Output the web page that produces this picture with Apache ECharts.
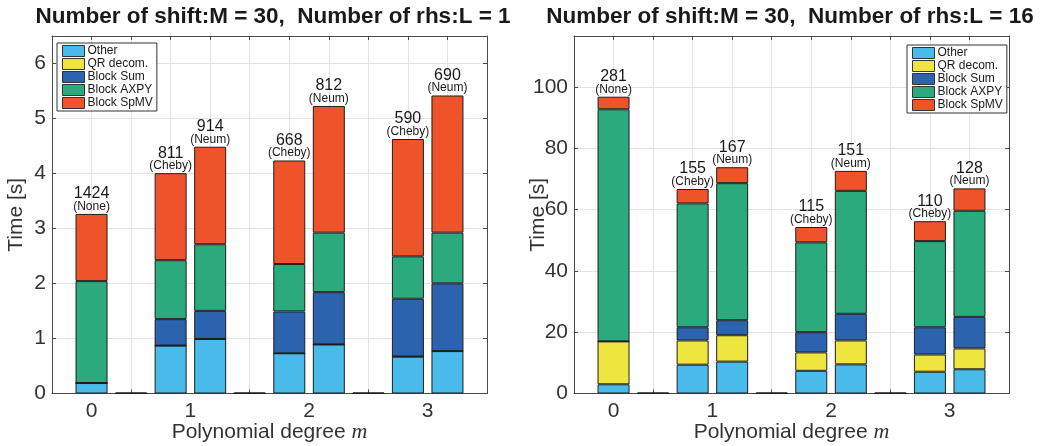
<!DOCTYPE html>
<html>
<head>
<meta charset="utf-8">
<script src="https://cdn.jsdelivr.net/npm/echarts@6/dist/echarts.min.js"></script>
<style>
  html, body { margin: 0; padding: 0; background: #fff; }
  #main { width: 1040px; height: 446px; }
</style>
</head>
<body>
<div id="main"></div>
<script>
// ---- Data ----
// slot 0 and 11 are empty margins; bars sit in slots 1..10
const SLOTS = ['0', '1', '2', '3', '4', '5', '6', '7', '8', '9', '10', '11'];
const SLOT_METHOD = ['None', '', 'Cheby', 'Neum', '', 'Cheby', 'Neum', '', 'Cheby', 'Neum'];
const DEGREE_LABELS = ['0', '1', '2', '3'];
const DEGREE_SLOT = [1, 3.5, 6.5, 9.5];
const SERIES_NAMES = ['Other', 'QR decom.', 'Block Sum', 'Block AXPY', 'Block SpMV'];

// Left: M = 30, L = 1
const L1_OTHER = [0.19, 0, 0.87, 0.99, 0, 0.73, 0.89, 0, 0.67, 0.77];
const L1_QR    = [0, 0, 0, 0, 0, 0, 0, 0, 0, 0];
const L1_SUM   = [0, 0, 0.48, 0.51, 0, 0.76, 0.95, 0, 1.05, 1.23];
const L1_AXPY  = [1.85, 0, 1.07, 1.21, 0, 0.86, 1.08, 0, 0.77, 0.92];
const L1_SPMV  = [1.22, 0, 1.58, 1.77, 0, 1.88, 2.30, 0, 2.13, 2.49];
const L1_ITERS = [1424, null, 811, 914, null, 668, 812, null, 590, 690];

// Right: M = 30, L = 16
const L16_OTHER = [3.0, 0, 9.4, 10.4, 0, 7.4, 9.5, 0, 7.1, 7.9];
const L16_QR    = [14.0, 0, 7.9, 8.6, 0, 6.0, 7.8, 0, 5.6, 6.8];
const L16_SUM   = [0, 0, 4.3, 4.9, 0, 6.6, 8.7, 0, 8.9, 10.3];
const L16_AXPY  = [75.7, 0, 40.4, 44.7, 0, 29.3, 40.1, 0, 28.1, 34.6];
const L16_SPMV  = [4.1, 0, 4.7, 5.2, 0, 5.0, 6.5, 0, 6.5, 7.3];
const L16_ITERS = [281, null, 155, 167, null, 115, 151, null, 110, 128];

const TITLES = ['Number of shift:M = 30,  Number of rhs:L = 1', 'Number of shift:M = 30,  Number of rhs:L = 16'];

// ---- Styles ----
const COLORS = ['#48BBEB', '#EEE63E', '#2C63AF', '#2AAA7D', '#EF532A'];
const FONT = '"Liberation Sans", Arial, Helvetica, sans-serif';
const AX_COLOR = '#4a4a4a';
const TXT_COLOR = '#333333';

// half-step categories for the degree labels
const HALF_SLOTS = [];
for (let i = 0; i <= 2 * (SLOTS.length - 1); i++) HALF_SLOTS.push(String(i / 2));

const charts = [
  { left: 52, values: [L1_OTHER, L1_QR, L1_SUM, L1_AXPY, L1_SPMV], iters: L1_ITERS, yMax: 6.49, yInt: 1, title: TITLES[0], titleX: 273, legendLeft: 57, legendTop: 43 },
  { left: 574, values: [L16_OTHER, L16_QR, L16_SUM, L16_AXPY, L16_SPMV], iters: L16_ITERS, yMax: 116.6, yInt: 20, title: TITLES[1], titleX: 790, legendLeft: 907, legendTop: 45 }
];

const grid = [], xAxis = [], yAxis = [], series = [], legend = [], graphic = [];

charts.forEach((c, g) => {
  grid.push({ left: c.left, top: 36, width: 435, height: 357.5, containLabel: false, outerBoundsMode: 'none' });

  // main x axis: grid lines, bottom line, inward ticks
  xAxis.push({
    gridIndex: g, type: 'category', data: SLOTS, boundaryGap: false, position: 'bottom',
    axisLine: { show: true, onZero: false, lineStyle: { color: AX_COLOR, width: 1 } },
    axisTick: { show: true, inside: true, length: 4, interval: 0, lineStyle: { color: AX_COLOR } },
    axisLabel: { show: false },
    splitLine: { show: true, interval: 0, lineStyle: { color: '#e3e3e3', width: 1 } },
    z: 0
  });
  // label x axis
  xAxis.push({
    gridIndex: g, type: 'category', data: HALF_SLOTS, boundaryGap: false, position: 'bottom',
    axisLine: { show: false }, axisTick: { show: false }, splitLine: { show: false },
    axisLabel: {
      show: true, interval: 0, margin: 7, fontSize: 21, color: TXT_COLOR, fontFamily: FONT,
      formatter: v => { const i = DEGREE_SLOT.indexOf(Number(v)); return i >= 0 ? DEGREE_LABELS[i] : ''; }
    },
    name: '{a|Polynomial degree }{b|m}', nameLocation: 'middle', nameGap: 28, nameMoveOverlap: false,
    nameTextStyle: {
      rich: {
        a: { fontSize: 21, color: TXT_COLOR, fontFamily: FONT },
        b: { fontSize: 22, color: TXT_COLOR, fontFamily: '"Liberation Serif", "Times New Roman", serif', fontStyle: 'italic' }
      }
    }
  });
  // top box axis
  xAxis.push({
    gridIndex: g, type: 'category', data: SLOTS, boundaryGap: false, position: 'top',
    axisLine: { show: true, onZero: false, lineStyle: { color: AX_COLOR, width: 1 } },
    axisTick: { show: true, inside: true, length: 4, interval: 0, lineStyle: { color: AX_COLOR } },
    axisLabel: { show: false }, splitLine: { show: false }
  });

  yAxis.push({
    gridIndex: g, type: 'value', min: 0, max: c.yMax, interval: c.yInt, position: 'left',
    axisLine: { show: true, onZero: false, lineStyle: { color: AX_COLOR, width: 1 } },
    axisTick: { show: true, inside: true, length: 4, lineStyle: { color: AX_COLOR } },
    axisLabel: { show: true, margin: 6, fontSize: 21, color: TXT_COLOR, fontFamily: FONT, showMaxLabel: false },
    splitLine: { show: true, lineStyle: { color: '#e3e3e3', width: 1 } },
    name: 'Time [s]', nameLocation: 'middle', nameGap: 25, nameMoveOverlap: false,
    nameTextStyle: { fontSize: 21, color: TXT_COLOR, fontFamily: FONT }
  });
  yAxis.push({
    gridIndex: g, type: 'value', min: 0, max: c.yMax, interval: c.yInt, position: 'right',
    axisLine: { show: true, onZero: false, lineStyle: { color: AX_COLOR, width: 1 } },
    axisTick: { show: true, inside: true, length: 4, lineStyle: { color: AX_COLOR } },
    axisLabel: { show: false }, splitLine: { show: false }
  });

  SERIES_NAMES.forEach((name, s) => {
    const isTop = s === SERIES_NAMES.length - 1;
    series.push({
      name: name, type: 'bar', stack: 'stack' + g,
      xAxisIndex: g * 3, yAxisIndex: g * 2,
      barWidth: 32, clip: false,
      barMinHeight: s === 0 ? 1 : 0,
      data: ['-'].concat(c.values[s], ['-']),
      itemStyle: { color: COLORS[s], borderColor: '#1e1e1e', borderWidth: 1 },
      emphasis: { disabled: true },
      label: isTop ? {
        show: true, position: 'top', distance: 2,
        formatter: params => {
          const k = params.dataIndex - 1;
          const it = c.iters[k];
          if (it == null) return '';
          return '{n|' + it + '}\n{p|(' + SLOT_METHOD[k] + ')}';
        },
        rich: {
          n: { fontSize: 16, lineHeight: 14, color: '#1a1a1a', fontFamily: FONT, align: 'center' },
          p: { fontSize: 12, lineHeight: 11, color: '#1a1a1a', fontFamily: FONT, align: 'center' }
        }
      } : { show: false },
      z: 3
    });
  });

  legend.push({
    left: c.legendLeft, top: c.legendTop, orient: 'vertical',
    data: SERIES_NAMES, icon: 'rect', itemWidth: 22, itemHeight: 11, itemGap: 1,
    selectedMode: false,
    padding: [2, 4, 2, 5],
    backgroundColor: '#fff', borderColor: '#333', borderWidth: 1,
    itemStyle: { borderColor: '#333', borderWidth: 1 },
    textStyle: { fontSize: 12, color: '#1a1a1a', fontFamily: FONT, lineHeight: 12, padding: [0, 0, 0, -2] },
    z: 10
  });

  graphic.push({
    type: 'text', x: c.titleX, y: 17,
    style: {
      text: c.title, font: 'bold 22.5px ' + FONT, fill: '#1a1a1a',
      align: 'center', verticalAlign: 'middle', textAlign: 'center', textVerticalAlign: 'middle'
    }
  });
});

const chart = echarts.init(document.getElementById('main'), null, { renderer: 'canvas' });
chart.setOption({
  animation: false,
  backgroundColor: '#fff',
  textStyle: { fontFamily: FONT },
  grid, xAxis, yAxis, series, legend, graphic
});
</script>
</body>
</html>
